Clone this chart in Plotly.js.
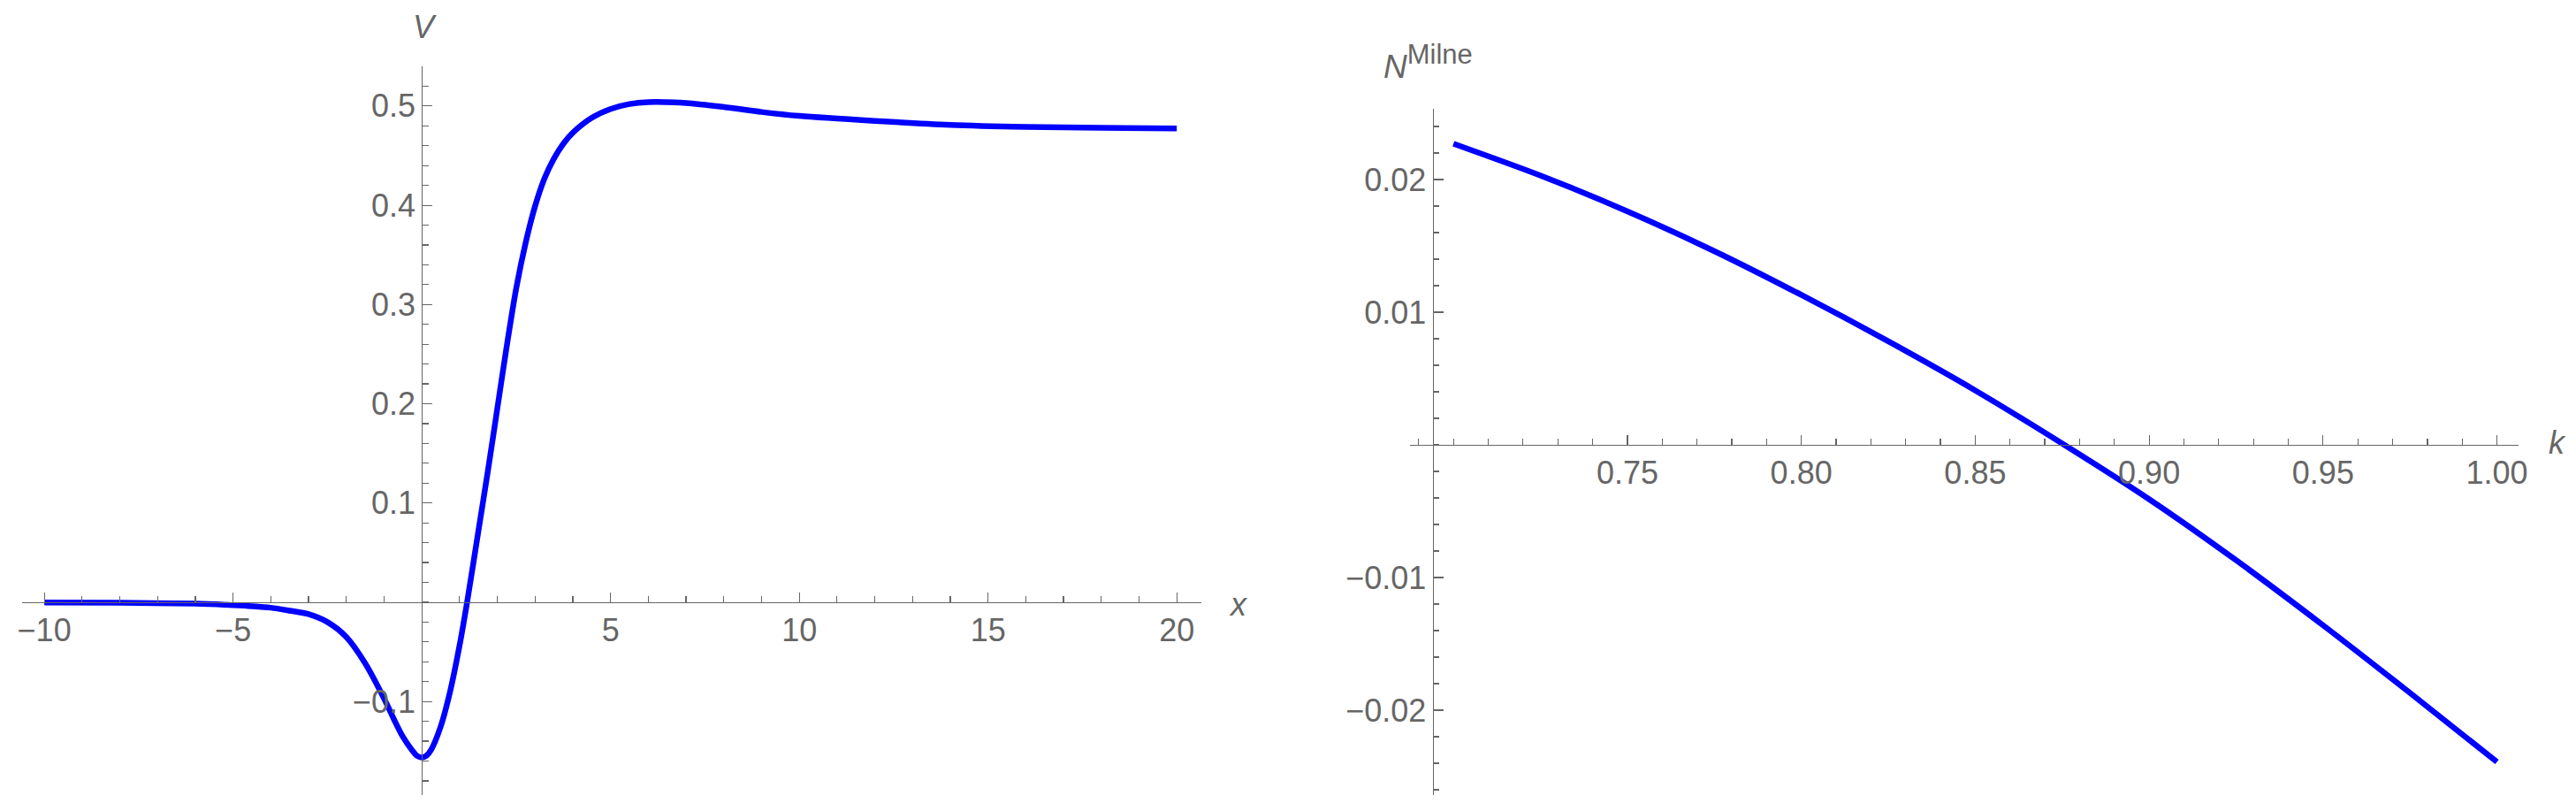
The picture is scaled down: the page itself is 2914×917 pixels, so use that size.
<!DOCTYPE html>
<html>
<head>
<meta charset="utf-8">
<script src="https://cdn.plot.ly/plotly-3.0.1.min.js"></script>
<style>html,body{margin:0;padding:0;background:#fff;}#chart{width:2914px;height:917px;}</style>
</head>
<body>
<div id="chart"></div>
<script>
// ---- Left panel data: V(x) ----
const vX = [-10, -8, -6, -5, -4.5, -4, -3.5, -3, -2.5, -2, -1.5, -1, -0.75, -0.5, -0.25, -0.125, 0, 0.125, 0.25, 0.5, 0.75, 1, 1.2, 1.5, 1.75, 2, 2.25, 2.5, 2.75, 3, 3.25, 3.5, 3.75, 4, 4.5, 5, 5.5, 6, 7, 8, 9, 10, 12, 14, 16, 18, 20];
const vY = [-0.0003, -0.0006, -0.0015, -0.003, -0.004, -0.0055, -0.0085, -0.012, -0.020, -0.035, -0.0615, -0.097, -0.117, -0.1357, -0.1495, -0.1548, -0.1565, -0.1545, -0.1485, -0.1253, -0.090, -0.0437, 0.0, 0.072, 0.132, 0.195, 0.258, 0.316, 0.362, 0.399, 0.427, 0.447, 0.462, 0.473, 0.488, 0.497, 0.502, 0.504, 0.503, 0.499, 0.494, 0.490, 0.485, 0.481, 0.479, 0.478, 0.4775];

// ---- Right panel data: N^Milne(k) ----
const kVals = [0.70, 0.725, 0.75, 0.775, 0.80, 0.825, 0.85, 0.875, 0.90, 0.925, 0.95, 0.975, 1.00];
const nMilne = [0.0227, 0.0203, 0.0176, 0.0146, 0.0113, 0.0078, 0.0041, 0.0001, -0.0041, -0.0087, -0.0136, -0.0187, -0.0239];

// ---- Tick values / labels ----
const xTickVals = [-10, -5, 5, 10, 15, 20];
const xTickText = ['\u221210', '\u22125', '5', '10', '15', '20'];
const yTickVals = [-0.1, 0.1, 0.2, 0.3, 0.4, 0.5];
const yTickText = ['\u22120.1', '0.1', '0.2', '0.3', '0.4', '0.5'];
const kTickVals = [0.70, 0.75, 0.80, 0.85, 0.90, 0.95, 1.00];
const kTickText = ['', '0.75', '0.80', '0.85', '0.90', '0.95', '1.00'];
const nTickVals = [-0.02, -0.01, 0.01, 0.02];
const nTickText = ['\u22120.02', '\u22120.01', '0.01', '0.02'];

function steps(a, b, d) {
  const out = [];
  const n = Math.round((b - a) / d);
  for (let i = 0; i <= n; i++) out.push(+(a + i * d).toFixed(6));
  return out;
}

const W = 2914, H = 917;
const gray = '#666666';
const fam = 'Liberation Sans, Arial, sans-serif';
const tickFont = {family: fam, size: 36, color: gray};

// ranges & domains
const xR1 = [-10.6, 20.64], yR1 = [-0.1946, 0.540];
const xR2 = [0.6874, 1.0062], yR2 = [-0.02642, 0.02531];
const xD1 = [24.5 / W, 1358.5 / W], yD1 = [(H - 899.3) / H, (H - 75) / H];
const xD2 = [1594.6 / W, 2849 / W], yD2 = [(H - 899.3) / H, (H - 123.3) / H];

function posOf(v, r, d) { return d[0] + (v - r[0]) / (r[1] - r[0]) * (d[1] - d[0]); }

function axisBase(extra) {
  return Object.assign({
    showline: true, linecolor: gray, linewidth: 1.2,
    showgrid: false, zeroline: false,
    ticks: 'inside', ticklen: 11, tickwidth: 1.2, tickcolor: gray,
    tickfont: tickFont, tickmode: 'array', fixedrange: true
  }, extra);
}

const lineStyle = {color: '#0000ff', width: 6.5, shape: 'spline', smoothing: 0.8};
const traces = [
  {x: vX, y: vY, type: 'scatter', mode: 'lines', line: lineStyle, xaxis: 'x', yaxis: 'y', hoverinfo: 'skip'},
  {x: kVals, y: nMilne, type: 'scatter', mode: 'lines', line: lineStyle, xaxis: 'x2', yaxis: 'y2', hoverinfo: 'skip'}
];

const minorStyle = {ticks: 'inside', ticklen: 6.5, tickwidth: 1.2, tickcolor: gray, tickmode: 'array'};

const layout = {
  width: W, height: H,
  margin: {l: 0, r: 0, t: 0, b: 0},
  paper_bgcolor: '#fff', plot_bgcolor: '#fff',
  showlegend: false, hovermode: false,
  xaxis: axisBase({range: xR1, domain: xD1, anchor: 'free', position: posOf(0, yR1, yD1),
    tickvals: xTickVals, ticktext: xTickText,
    minor: Object.assign({tickvals: steps(-10, 20, 1)}, minorStyle)}),
  yaxis: axisBase({range: yR1, domain: yD1, anchor: 'free', position: posOf(0, xR1, xD1),
    tickvals: yTickVals, ticktext: yTickText,
    minor: Object.assign({tickvals: steps(-0.18, 0.54, 0.02)}, minorStyle)}),
  xaxis2: axisBase({range: xR2, domain: xD2, anchor: 'free', position: posOf(0, yR2, yD2),
    tickvals: kTickVals, ticktext: kTickText,
    minor: Object.assign({tickvals: steps(0.69, 1.00, 0.01)}, minorStyle)}),
  yaxis2: axisBase({range: yR2, domain: yD2, anchor: 'free', position: posOf(0.694, xR2, xD2),
    tickvals: nTickVals, ticktext: nTickText,
    minor: Object.assign({tickvals: steps(-0.026, 0.024, 0.002)}, minorStyle)}),
  annotations: [
    {text: '<i>V</i>', xref: 'paper', yref: 'paper', x: 480 / W, y: 1 - 30 / H, xanchor: 'center', yanchor: 'middle', showarrow: false,
     font: {family: fam, size: 36, color: gray}},
    {text: '<i>x</i>', xref: 'paper', yref: 'paper', x: 1388 / W, y: 1 - 683 / H, xanchor: 'left', yanchor: 'middle', showarrow: false,
     font: {family: fam, size: 36, color: gray}},
    {text: '<i>k</i>', xref: 'paper', yref: 'paper', x: 2881 / W, y: 1 - 501 / H, xanchor: 'left', yanchor: 'middle', showarrow: false,
     font: {family: fam, size: 36, color: gray}},
    {text: '<i>N</i><sup><span style="font-size:31px">Milne</span></sup>', xref: 'paper', yref: 'paper', x: 1563 / W, y: 1 - 70 / H, xanchor: 'left', yanchor: 'middle', showarrow: false,
     font: {family: fam, size: 37, color: gray}}
  ]
};

Plotly.newPlot('chart', traces, layout, {staticPlot: true, displayModeBar: false});
</script>
</body>
</html>
